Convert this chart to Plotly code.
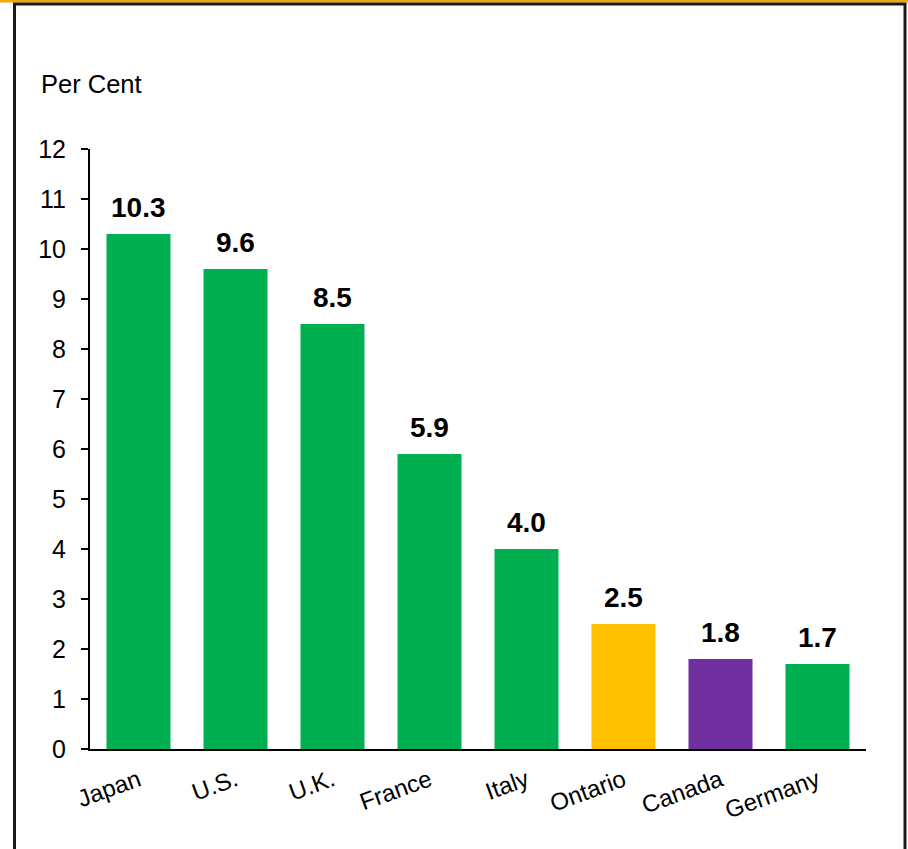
import plotly.graph_objects as go

categories = ["Japan", "U.S.", "U.K.", "France", "Italy", "Ontario", "Canada", "Germany"]
values = [10.3, 9.6, 8.5, 5.9, 4.0, 2.5, 1.8, 1.7]
value_labels = ["10.3", "9.6", "8.5", "5.9", "4.0", "2.5", "1.8", "1.7"]
bar_colors = ["#00B050", "#00B050", "#00B050", "#00B050", "#00B050", "#FFC000", "#7030A0", "#00B050"]
y_ticks = list(range(0, 13))
y_axis_title = "Per Cent"

W, H = 908, 849
ML, MR, MT, MB = 90, 42, 149, 100
pw = W - ML - MR
ph = H - MT - MB

def px_x(p):
    return (p - ML) / pw

def px_y(p):
    return (H - MB - p) / ph

FONT = "Liberation Sans, Arial, sans-serif"

fig = go.Figure()
fig.add_trace(go.Bar(
    x=categories, y=values,
    marker=dict(color=bar_colors, line=dict(width=0)),
    hoverinfo="skip",
))

for c, v, t in zip(categories, values, value_labels):
    fig.add_annotation(x=c, y=v, text=f"<b>{t}</b>", showarrow=False,
                       yanchor="bottom", yshift=9,
                       font=dict(family=FONT, size=28, color="black"))

fig.add_annotation(xref="paper", yref="paper", x=px_x(39), y=px_y(84),
                   xanchor="left", yanchor="middle", text=y_axis_title, showarrow=False,
                   font=dict(family=FONT, size=25.5, color="black"))

# frame
fig.add_shape(type="rect", xref="paper", yref="paper",
              x0=px_x(-5), x1=px_x(W + 5), y0=px_y(2.5), y1=px_y(-5),
              line=dict(width=0), fillcolor="#F0A800", layer="below")
fig.add_shape(type="rect", xref="paper", yref="paper",
              x0=px_x(14.5), x1=px_x(905), y0=px_y(H + 20), y1=px_y(4),
              line=dict(width=3, color="#1a1a1a"), fillcolor="white", layer="below")

fig.update_layout(
    width=W, height=H,
    margin=dict(l=ML, r=MR, t=MT, b=MB, pad=0),
    paper_bgcolor="white", plot_bgcolor="rgba(0,0,0,0)",
    bargap=0.34, showlegend=False,
    font=dict(family=FONT, color="black"),
)
fig.update_yaxes(range=[0, 12], tickvals=y_ticks, ticks="outside", ticklen=7, tickwidth=2,
                 tickcolor="black", showline=True, linewidth=2, linecolor="black",
                 showgrid=False, zeroline=False, tickfont=dict(size=25), ticklabelstandoff=10)
fig.update_xaxes(showline=True, linewidth=2, linecolor="black", ticks="", showgrid=False,
                 tickangle=-20, tickfont=dict(size=24), ticklabelstandoff=6)

fig.write_html("out.html", config={"displayModeBar": False},
               post_script="document.body.style.margin='0';")
